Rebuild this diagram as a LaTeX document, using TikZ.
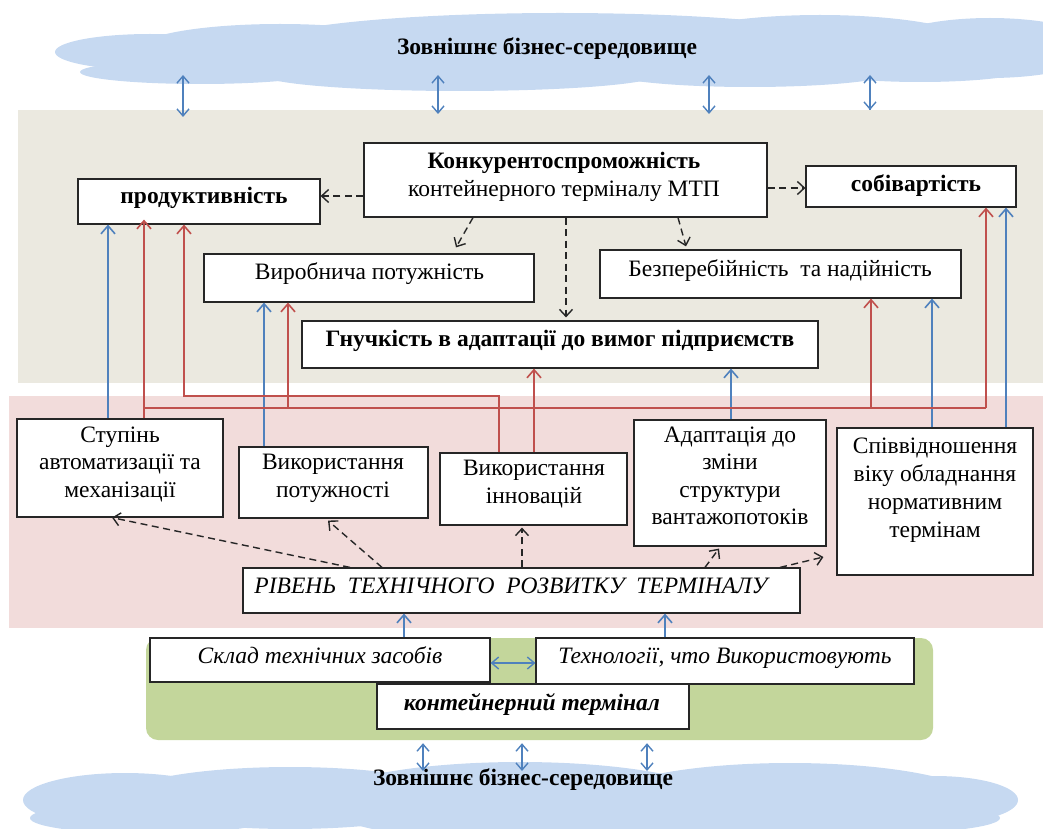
\documentclass[tikz,border=0pt]{standalone}
\usepackage{fontspec}
\setmainfont{Liberation Serif}
\usetikzlibrary{arrows.meta,calc}
\definecolor{cloudc}{HTML}{C6D9F1}
\definecolor{beige}{HTML}{EBE9E0}
\definecolor{pinkb}{HTML}{F2DCDB}
\definecolor{greenb}{HTML}{C3D69B}
\definecolor{blueline}{HTML}{4F81BD}
\definecolor{redline}{HTML}{C0504D}
\newcommand\fsz{\fontsize{23.5}{27.5}\selectfont}
\tikzset{
 box/.style={draw=black!85, line width=1.2pt, fill=white, inner sep=0pt, rectangle},
 t/.style={inner sep=0pt, font=\fsz, align=center},
 tb/.style={t, anchor=base},
 dasharr/.style={draw=black!85, line width=1.4pt, dash pattern=on 7pt off 4.5pt, -{Straight Barb[length=7pt,width=13pt]}},
 bluearr/.style={draw=blueline, line width=1.6pt, -{Straight Barb[length=8pt,width=14pt]}},
 redarr/.style={draw=redline, line width=1.6pt, -{Straight Barb[length=8pt,width=14pt]}},
 redln/.style={draw=redline, line width=1.6pt},
 dblarr/.style={draw=blueline, line width=1.4pt, {Straight Barb[length=7pt,width=12pt]}-{Straight Barb[length=7pt,width=12pt]}},
}
\begin{document}
\begin{tikzpicture}[x=1pt,y=-1pt]
\useasboundingbox (0,0) rectangle (1043,829);
\clip (0,0) rectangle (1043,829);

% top cloud
\begin{scope}[cloudc]
\fill (150,52) ellipse [x radius=95pt, y radius=18pt];
\fill (200,72) ellipse [x radius=120pt, y radius=12pt];
\fill (280,48) ellipse [x radius=140pt, y radius=24pt];
\fill (560,45) ellipse [x radius=300pt, y radius=32pt];
\fill (820,47) ellipse [x radius=160pt, y radius=32pt];
\fill (990,48) ellipse [x radius=110pt, y radius=30pt];
\fill (460,74) ellipse [x radius=200pt, y radius=17pt];
\fill (750,70) ellipse [x radius=150pt, y radius=17pt];
\fill (920,68) ellipse [x radius=110pt, y radius=14pt];
% bottom cloud
\fill (125,800) ellipse [x radius=102pt, y radius=27pt];
\fill (290,798) ellipse [x radius=170pt, y radius=31pt];
\fill (520,802) ellipse [x radius=200pt, y radius=40pt];
\fill (790,802) ellipse [x radius=190pt, y radius=39pt];
\fill (935,800) ellipse [x radius=83pt, y radius=24pt];
\fill (150,818) ellipse [x radius=120pt, y radius=16pt];
\fill (870,818) ellipse [x radius=130pt, y radius=16pt];
\end{scope}
\node[tb, font=\fsz\bfseries] (cloudT) at (547,55) {Зовнішнє бізнес-середовище};
\node[tb, font=\fsz\bfseries] (cloudB) at (523,785) {Зовнішнє бізнес-середовище};

% bands
\node[fill=beige, inner sep=0pt, minimum width=1025pt, minimum height=273pt] (band1) at (530.5,246.5) {};
\node[fill=pinkb, inner sep=0pt, minimum width=1034pt, minimum height=232pt] (band2) at (526,512) {};
\node[fill=greenb, inner sep=0pt, rounded corners=12pt, minimum width=787pt, minimum height=102pt] (band3) at (539.5,689) {};

% boxes
\node[box, minimum width=403pt, minimum height=74pt] (konk) at (565.5,180) {};
\node[box, minimum width=242pt, minimum height=45pt] (prod) at (199,201.5) {};
\node[box, minimum width=210pt, minimum height=41pt] (sob) at (911,186.5) {};
\node[box, minimum width=330pt, minimum height=48pt] (vyr) at (369,278) {};
\node[box, minimum width=361pt, minimum height=48pt] (bez) at (780.5,274) {};
\node[box, minimum width=516pt, minimum height=47pt] (hnu) at (560,344.5) {};
\node[box, minimum width=206pt, minimum height=98pt] (stu) at (120,468) {};
\node[box, minimum width=189pt, minimum height=71pt] (vpot) at (333.5,482.5) {};
\node[box, minimum width=187pt, minimum height=72pt] (vinn) at (533.5,489) {};
\node[box, minimum width=192pt, minimum height=126pt] (adapt) at (730,483) {};
\node[box, minimum width=196pt, minimum height=147pt] (spiv) at (935,501.5) {};
\node[box, minimum width=557pt, minimum height=45pt] (riv) at (521.5,590.5) {};
\node[box, minimum width=340pt, minimum height=44pt] (skl) at (320,660) {};
\node[box, minimum width=378pt, minimum height=46pt] (tech) at (725,661) {};
\node[box, minimum width=312pt, minimum height=45pt] (kt) at (533,706.5) {};

% texts
\node[t] (konkT) at (564,177) {\strut\textbf{Конкурентоспроможність}\\\strut контейнерного терміналу МТП};
\node[tb, font=\fsz\bfseries] (prodT) at (204,204) {продуктивність};
\node[tb, font=\fsz\bfseries] (sobT) at (916,191) {собівартість};
\node[tb] (vyrT) at (369.5,279) {Виробнича потужність};
\node[tb] (bezT) at (780,276) {Безперебійність\ \ та надійність};
\node[tb, font=\fsz\bfseries] (hnuT) at (560,346) {Гнучкість в адаптації до вимог підприємств};
\node[t] (stuT) at (120,464.2) {\strut Ступінь\\\strut автоматизації та\\\strut механізації};
\node[t] (vpotT) at (333,478) {\strut Використання\\\strut потужності};
\node[t] (vinnT) at (534,484) {\strut Використання\\\strut інновацій};
\node[t] (adaptT) at (730,477.8) {\strut Адаптація до\\\strut зміни\\\strut структури\\\strut вантажопотоків};
\node[t, font=\fontsize{23.5}{28}\selectfont] (spivT) at (935,489.6) {\strut Співвідношення\\\strut віку обладнання\\\strut нормативним\\\strut термінам};
\node[tb, font=\fsz\itshape] (rivT) at (511,593) {РІВЕНЬ\ \ ТЕХНІЧНОГО\ \ РОЗВИТКУ\ \ ТЕРМІНАЛУ};
\node[tb, font=\fsz\itshape] (sklT) at (320,663) {Склад технічних засобів};
\node[tb, font=\fsz\itshape] (techT) at (725,663) {Технології, что Використовують};
\node[tb, font=\fsz\bfseries\itshape] (ktT) at (532,710) {контейнерний термінал};

% dashed arrows from konk
\draw[dasharr] (konk.west |- 0,196) -- (prod.east |- 0,196);
\draw[dasharr] (konk.east |- 0,188) -- (sob.west |- 0,188);
\draw[dasharr] (konk.south -| 473,0) -- ([yshift=6pt]vyr.north -| 456,0);
\draw[dasharr] (konk.south -| 566,0) -- ([yshift=3pt]hnu.north -| 566,0);
\draw[dasharr] (konk.south -| 678,0) -- ([yshift=3pt]bez.north -| 686,0);
% dashed arrows from riv
\draw[dasharr] (riv.north -| 350,0) -- (stu.south -| 112,0);
\draw[dasharr] (riv.north -| 382,0) -- ([yshift=-2pt]vpot.south -| 328,0);
\draw[dasharr] (riv.north -| 522,0) -- ([yshift=-2pt]vinn.south -| 522,0);
\draw[dasharr] (riv.north -| 705,0) -- ([yshift=-2pt]adapt.south -| 719,0);
\draw[dasharr] (riv.north -| 780,0) -- ([xshift=-13pt]spiv.west |- 0,557);

% blue arrows
\draw[bluearr] (stu.north -| 108,0) -- (prod.south -| 108,0);
\draw[bluearr] (vpot.north -| 264,0) -- (vyr.south -| 264,0);
\draw[bluearr] (adapt.north -| 731,0) -- (hnu.south -| 731,0);
\draw[bluearr] (spiv.north -| 932,0) -- (bez.south -| 932,0);
\draw[bluearr] (spiv.north -| 1006,0) -- (sob.south -| 1006,0);
\draw[bluearr] (skl.north -| 404,0) -- (riv.south -| 404,0);
\draw[bluearr] (tech.north -| 665,0) -- (riv.south -| 665,0);
\draw[dblarr] (skl.east |- 0,663) -- (tech.west |- 0,663);

% red arrows
\coordinate (rj) at (144,408);
\draw[redarr] (stu.north -| rj) -- ([yshift=5pt]prod.south -| rj);
\draw[redln] (rj) -- (rj -| 986,0);
\draw[redarr] (rj -| 288,0) -- (vyr.south -| 288,0);
\draw[redarr] (rj -| 871,0) -- (bez.south -| 871,0);
\draw[redarr] (rj -| 986,0) -- (sob.south -| 986,0);
\coordinate (rk) at (499,396);
\draw[redarr] (vinn.north -| rk) -- (rk) -- (rk -| 184,0) -- (prod.south -| 184,0);
\draw[redarr] (vinn.north -| 534,0) -- (hnu.south -| 534,0);

% double arrows to clouds
\foreach \x/\e in {183/117, 438/114, 709/114, 870/110} {
  \coordinate (ct\x) at (\x,75);
  \draw[dblarr] (ct\x) -- (band1.north -| ct\x) -- (\x,\e);
}
\foreach \x in {423, 522, 647} {
  \coordinate (cb\x) at (\x,771);
  \draw[dblarr] ([yshift=-3pt]band3.south -| cb\x) -- (cb\x);
}
\end{tikzpicture}
\end{document}
